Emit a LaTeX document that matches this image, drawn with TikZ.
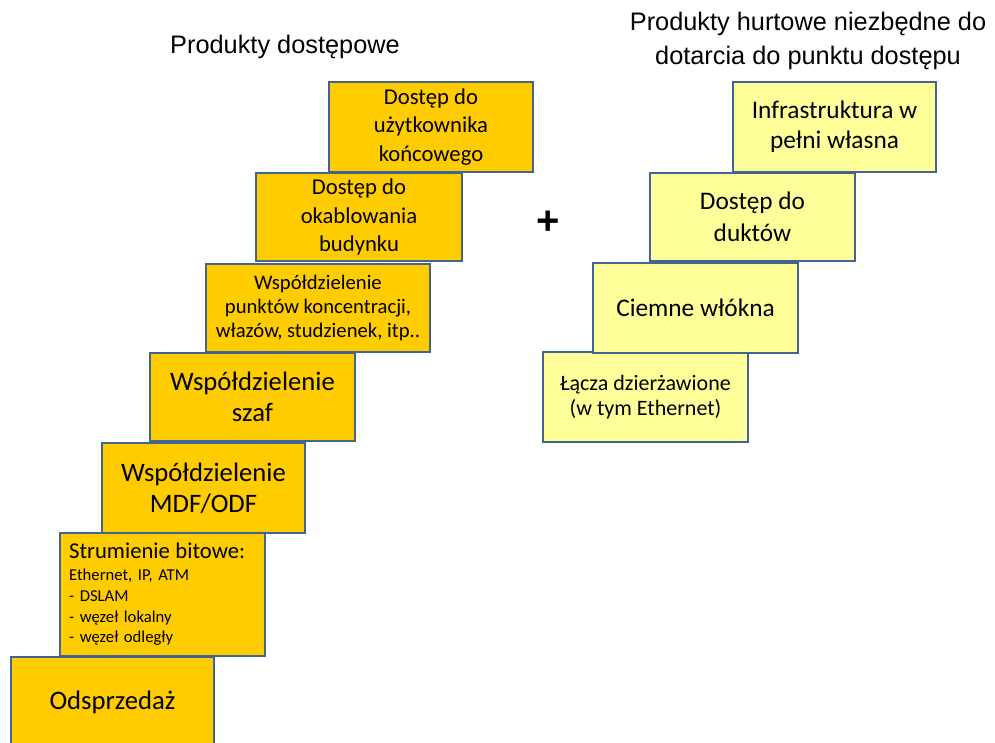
\documentclass[tikz,border=0pt]{standalone}
\usepackage{fontspec}
\setmainfont{Carlito}
\newfontfamily\arialfont{Liberation Sans}
\definecolor{boxline}{RGB}{66,100,145}
\definecolor{orangefill}{RGB}{255,204,0}
\definecolor{yellowfill}{RGB}{255,255,153}
\begin{document}
\begin{tikzpicture}[x=0.75pt,y=0.75pt,yscale=-1,
  box/.style 2 args={draw=boxline,line width=2pt,inner sep=0pt,align=center,
    minimum width=#1*0.75pt,minimum height=#2*0.75pt},
  accbox/.style 2 args={box={#1}{#2},fill=orangefill},
  hurtbox/.style 2 args={box={#1}{#2},fill=yellowfill},
  title/.style={font=\arialfont\fontsize{19}{26}\selectfont,align=center}]
\useasboundingbox (0,0) rectangle (995,742);

%Shape: Rectangle -- produkty dostepowe
\node (odsprzedaz) [accbox={203}{90},font=\fontsize{20}{23.5}\selectfont] at (112.5,702) {Odsprzedaż};
\node (strumienie) [accbox={205}{123},text width=140pt,align=left,font=\fontsize{12.5}{15.5}\selectfont] at (162.5,594.5)
  {{\fontsize{17}{20}\selectfont Strumienie bitowe:}\\[1pt]
   Ethernet, IP, ATM\\ - DSLAM\\ - węzeł lokalny\\ - węzeł odległy};
\node (mdf) [accbox={203}{90},font=\fontsize{20}{23.5}\selectfont] at (203.5,488) {Współdzielenie\\MDF/ODF};
\node (szaf) [accbox={205}{88},font=\fontsize{20}{23.5}\selectfont] at (252.5,397) {Współdzielenie\\szaf};
\node (punkty) [accbox={224}{88},font=\fontsize{15.5}{17.8}\selectfont] at (318,308)
  {Współdzielenie\\punktów koncentracji,\\włazów, studzienek, itp..};
\node (okablowanie) [accbox={206}{88},font=\fontsize{17}{21.3}\selectfont] at (359,217) {Dostęp do\\okablowania\\budynku};
\node (uzytkownik) [accbox={204}{90},font=\fontsize{17}{21.3}\selectfont] at (431,127) {Dostęp do\\użytkownika\\końcowego};

%Shape: Rectangle -- produkty hurtowe
\node (lacza) [hurtbox={205}{90},font=\fontsize{16.5}{19}\selectfont] at (645.5,397) {Łącza dzierżawione\\(w tym Ethernet)};
\node (ciemne) [hurtbox={205}{90},font=\fontsize{19}{23}\selectfont] at (695.5,308) {Ciemne włókna};
\node (dukty) [hurtbox={205}{88},font=\fontsize{19}{24}\selectfont] at (752.5,217) {Dostęp do\\duktów};
\node (infra) [hurtbox={203}{90},font=\fontsize{19}{22.5}\selectfont] at (834.5,127) {Infrastruktura w\\pełni własna};

% Text Node
\node (plus) [font=\arialfont\bfseries\fontsize{30}{30}\selectfont] at (548,223) {+};
% Text Node
\node (tytul1) [title] at (285,47) {Produkty dostępowe};
% Text Node
\node (tytul2) [title] at (808,41) {Produkty hurtowe niezbędne do\\dotarcia do punktu dostępu};

\end{tikzpicture}
\end{document}
